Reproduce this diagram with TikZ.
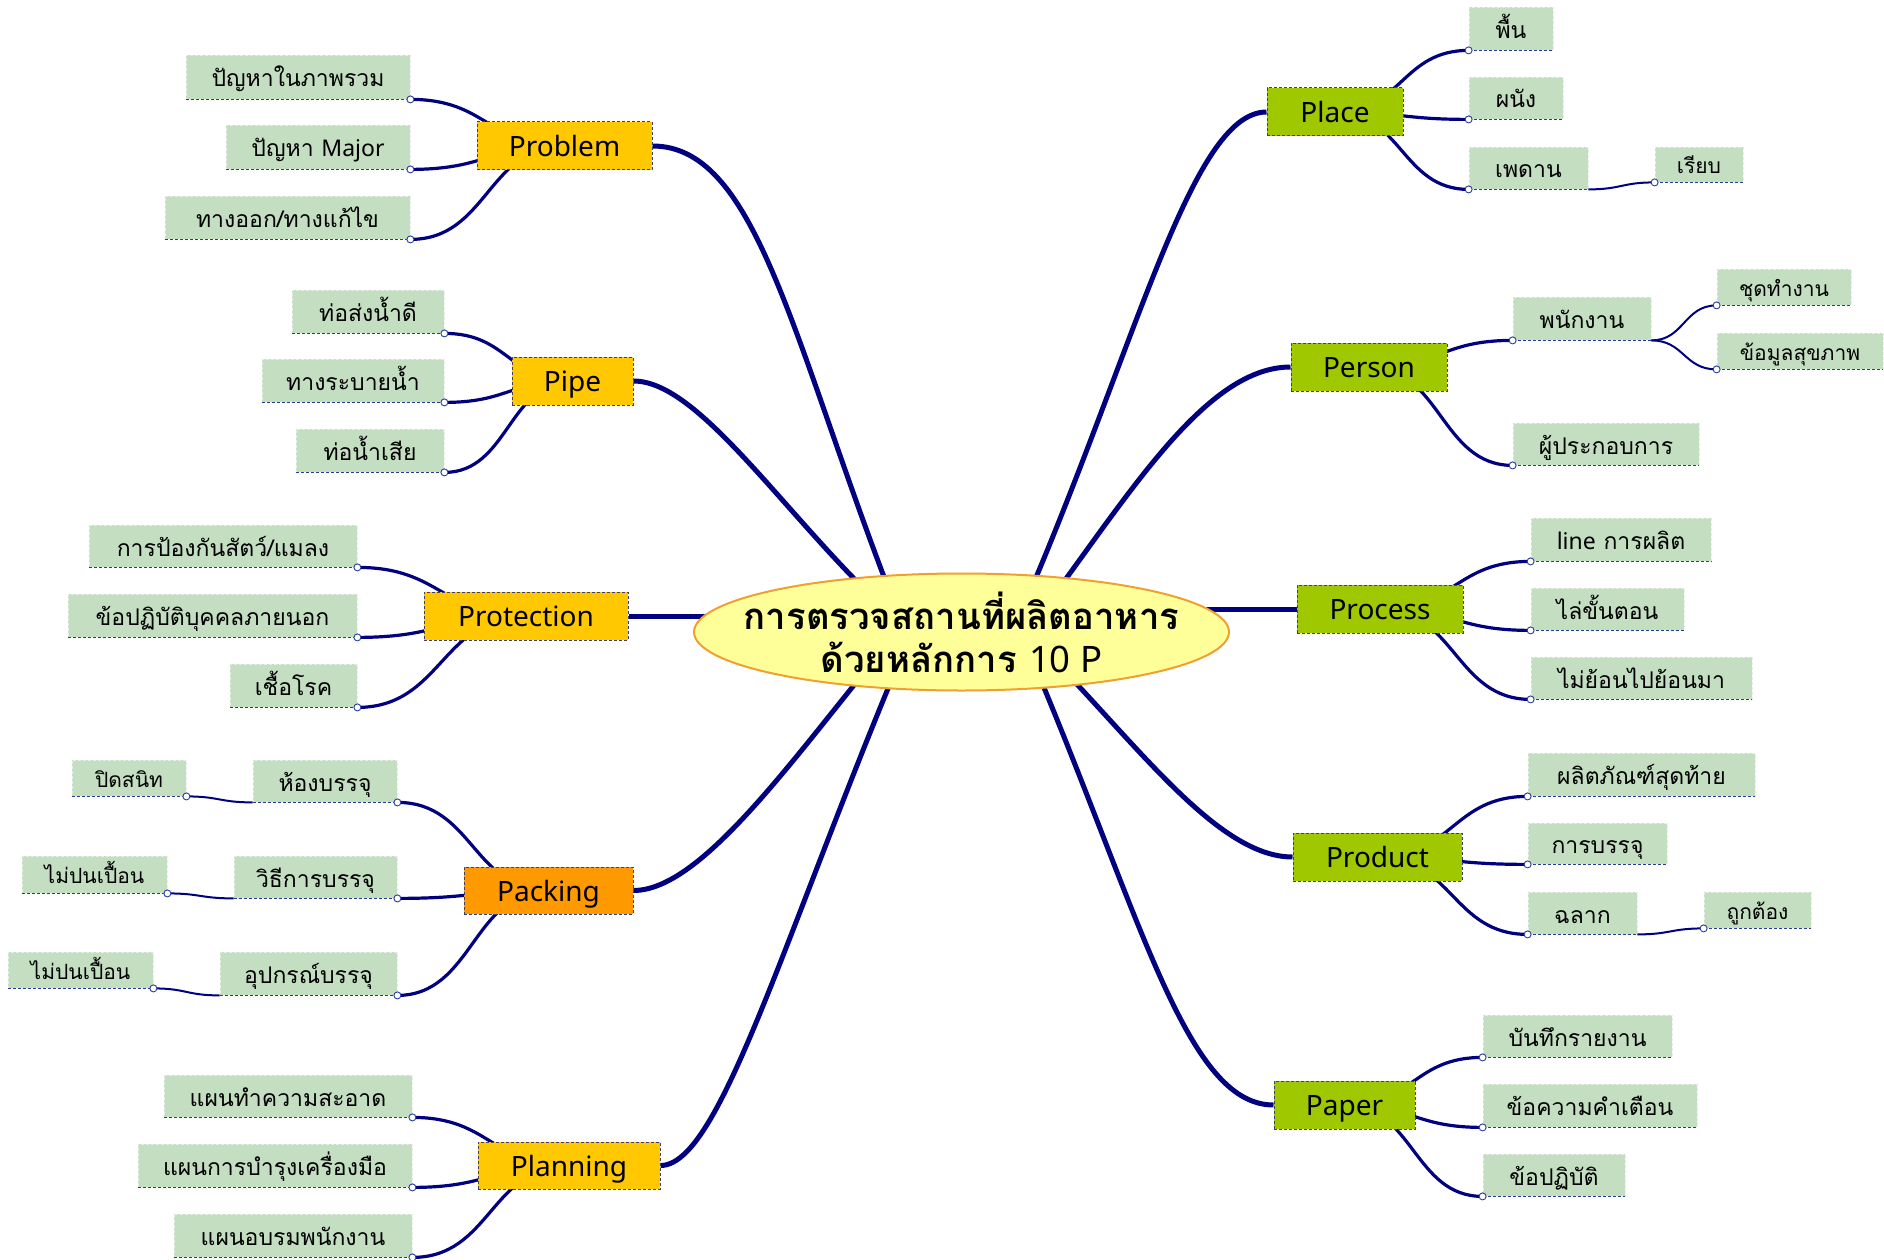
\documentclass[tikz,border=0pt]{standalone}
\usepackage{fontspec}
\setmainfont[Script=Thai]{Loma}
\newfontfamily\latin{Noto Sans}
\usetikzlibrary{calc,shapes.geometric}
\pgfdeclarelayer{background}
\pgfsetlayers{background,main}

\definecolor{branchblue}{HTML}{000080}
\definecolor{goldbox}{HTML}{FFC800}
\definecolor{orangebox}{HTML}{FF9900}
\definecolor{limebox}{HTML}{A0C800}
\definecolor{leaf}{HTML}{C4DEC2}
\definecolor{leafedge}{HTML}{E6EEE5}
\definecolor{underl}{HTML}{2A3A9A}
\definecolor{boxedge}{HTML}{404070}
\definecolor{centrefill}{HTML}{FFFF99}
\definecolor{centreedge}{HTML}{F0A030}

\tikzset{
  topic/.style={draw=boxedge, dash pattern=on 3pt off 2pt, line width=1pt,
    inner sep=0pt, text=black, text height=21pt, text depth=0pt,
    font=\latin\fontsize{28}{32}\selectfont},
  goldtopic/.style={topic, fill=goldbox},
  orangetopic/.style={topic, fill=orangebox},
  greentopic/.style={topic, fill=limebox},
  leafbox/.style={fill=leaf, draw=leafedge, dash pattern=on 3pt off 2pt,
    line width=0.8pt, inner sep=0pt, text=black, text height=20pt, text depth=0pt,
    font=\fontsize{23}{27}\selectfont},
  subleaf/.style={leafbox, text height=18.5pt, font=\fontsize{21}{25}\selectfont},
  underline/.style={draw=underl, line width=1pt, dash pattern=on 3pt off 2pt},
  trunk/.style={draw=branchblue, line width=5pt},
  twig/.style={draw=branchblue, line width=3.2pt},
  sprig/.style={draw=branchblue, line width=2pt},
  knob/.style={draw=underl, fill=white, line width=0.9pt},
  sc/.style={to path={let \p1=(\tikztostart), \p2=(\tikztotarget),
    \n1={(\x1+\x2)/2} in .. controls (\n1,\y1) and (\n1,\y2) .. (\tikztotarget)}}
}

% box given by its left, right, top and bottom edges (y grows downwards)
\newcommand\tbox[7]{\node[#1, minimum width={(#4)-(#3)}, minimum height={(#6)-(#5)}]
  (#2) at ({((#3)+(#4))/2},{((#5)+(#6))/2}) {#7};}
\newcommand\leafnode[7]{\tbox{#1}{#2}{#3}{#4}{#5}{#6}{#7}%
  \draw[underline] (#2.south west) -- (#2.south east);}

\begin{document}
\begin{tikzpicture}[x=1pt, y=-1pt]
\useasboundingbox (0,0) rectangle (1884,1260);
\begin{pgfonlayer}{background}
  \fill[white] (0,0) rectangle (1884,1260);
\end{pgfonlayer}

% central topic
\coordinate (hubc) at (961.5,632);
\filldraw[fill=centrefill, draw=centreedge, line width=2pt]
  (hubc) ellipse [x radius=267.5, y radius=58.5];
\node[align=center, inner sep=0pt, font=\fontsize{36.5}{43}\selectfont] (hub) at (hubc)
  {\textbf{การตรวจสถานที่ผลิตอาหาร}\\\textbf{ด้วยหลักการ} {\latin 10 P}};

% main topics
\tbox{goldtopic}{problem}{477}{652}{122}{170}{Problem}
\tbox{goldtopic}{pipe}{512}{633}{357}{405}{Pipe}
\tbox{goldtopic}{protection}{424}{628}{592}{640}{Protection}
\tbox{orangetopic}{packing}{464}{633}{867}{914}{Packing}
\tbox{goldtopic}{planning}{478}{660}{1142}{1189}{Planning}
\tbox{greentopic}{place}{1267}{1403}{88}{136}{Place}
\tbox{greentopic}{person}{1291}{1447}{343}{391}{Person}
\tbox{greentopic}{process}{1297}{1463}{585}{633}{Process}
\tbox{greentopic}{product}{1293}{1462}{833}{881}{Product}
\tbox{greentopic}{paper}{1274}{1415}{1081}{1129}{Paper}

% subtopics, left side
\leafnode{leafbox}{p1}{186}{410}{55}{99}{ปัญหาในภาพรวม}
\leafnode{leafbox}{p2}{226}{410}{125}{169}{ปัญหา {\latin Major}}
\leafnode{leafbox}{p3}{165}{410}{196}{239}{ทางออก/ทางแก้ไข}
\leafnode{leafbox}{q1}{292}{444}{290}{333}{ท่อส่งน้ำดี}
\leafnode{leafbox}{q2}{262}{444}{359}{402}{ทางระบายน้ำ}
\leafnode{leafbox}{q3}{296}{444}{429}{472}{ท่อน้ำเสีย}
\leafnode{leafbox}{r1}{89}{357}{525}{567}{การป้องกันสัตว์/แมลง}
\leafnode{leafbox}{r2}{68}{357}{594}{637}{ข้อปฏิบัติบุคคลภายนอก}
\leafnode{leafbox}{r3}{230}{357}{664}{707}{เชื้อโรค}
\leafnode{leafbox}{k1}{253}{397}{760}{802}{ห้องบรรจุ}
\leafnode{leafbox}{k2}{234}{397}{856}{898}{วิธีการบรรจุ}
\leafnode{leafbox}{k3}{220}{397}{952}{995}{อุปกรณ์บรรจุ}
\leafnode{subleaf}{k1a}{72}{186}{760}{796}{ปิดสนิท}
\leafnode{subleaf}{k2a}{22}{167}{856}{893}{ไม่ปนเปื้อน}
\leafnode{subleaf}{k3a}{8}{153}{952}{988}{ไม่ปนเปื้อน}
\leafnode{leafbox}{n1}{164}{412}{1075}{1117}{แผนทำความสะอาด}
\leafnode{leafbox}{n2}{138}{412}{1144}{1187}{แผนการบำรุงเครื่องมือ}
\leafnode{leafbox}{n3}{174}{412}{1214}{1257}{แผนอบรมพนักงาน}

% subtopics, right side
\leafnode{leafbox}{a1}{1469}{1553}{7}{50}{พื้น}
\leafnode{leafbox}{a2}{1469}{1563}{77}{119}{ผนัง}
\leafnode{leafbox}{a3}{1469}{1588}{147}{189}{เพดาน}
\leafnode{subleaf}{a3a}{1655}{1743}{147}{182}{เรียบ}
\leafnode{leafbox}{b1}{1513}{1651}{297}{340}{พนักงาน}
\leafnode{subleaf}{b1a}{1717}{1851}{269}{305}{ชุดทำงาน}
\leafnode{subleaf}{b1b}{1717}{1883}{333}{369}{ข้อมูลสุขภาพ}
\leafnode{leafbox}{b2}{1513}{1699}{423}{465}{ผู้ประกอบการ}
\leafnode{leafbox}{c1}{1531}{1711}{518}{561}{{\latin line} การผลิต}
\leafnode{leafbox}{c2}{1531}{1684}{588}{630}{ไล่ขั้นตอน}
\leafnode{leafbox}{c3}{1531}{1752}{657}{699}{ไม่ย้อนไปย้อนมา}
\leafnode{leafbox}{d1}{1528}{1755}{753}{796}{ผลิตภัณฑ์สุดท้าย}
\leafnode{leafbox}{d2}{1528}{1667}{823}{864}{การบรรจุ}
\leafnode{leafbox}{d3}{1528}{1637}{892}{934}{ฉลาก}
\leafnode{subleaf}{d3a}{1704}{1811}{892}{928}{ถูกต้อง}
\leafnode{leafbox}{e1}{1483}{1672}{1015}{1057}{บันทึกรายงาน}
\leafnode{leafbox}{e2}{1483}{1697}{1084}{1127}{ข้อความคำเตือน}
\leafnode{leafbox}{e3}{1483}{1625}{1154}{1196}{ข้อปฏิบัติ}

% roots of the main branches, hidden under the central ellipse
\coordinate (oProblem) at (905,631);
\coordinate (oPipe) at (909,631);
\coordinate (oProt) at (800,616);
\coordinate (oPack) at (898,631);
\coordinate (oPlan) at (912,631);
\coordinate (oPlace) at (1013,631);
\coordinate (oPerson) at (1027,631);
\coordinate (oProc) at (1120,609);
\coordinate (oProd) at (1025,631);
\coordinate (oPaper) at (1020,631);

\begin{pgfonlayer}{background}
  % main branches
  \draw[trunk] (problem.east) .. controls +(108,0) and +(-111,-278) .. (oProblem);
  \draw[trunk] (pipe.east) .. controls +(70,0) and +(-114,-98) .. (oPipe);
  \draw[trunk] (protection.east) -- (oProt);
  \draw[trunk] (packing.east) .. controls +(70,0) and +(-100,120) .. (oPack);
  \draw[trunk] (planning.east) .. controls +(60,0) and +(-129,304) .. (oPlan);
  \draw[trunk] (place.west) .. controls +(-77,0) and +(121,-274) .. (oPlace);
  \draw[trunk] (person.west) .. controls +(-90,0) and +(92,-119) .. (oPerson);
  \draw[trunk] (process.west) -- (oProc);
  \draw[trunk] (product.west) .. controls +(-80,0) and +(101,97) .. (oProd);
  \draw[trunk] (paper.west) .. controls +(-90,0) and +(119,275) .. (oPaper);

  % subtopic connectors
  \foreach \kid/\dad in {p1/problem,p2/problem,p3/problem,q1/pipe,q2/pipe,q3/pipe,
      r1/protection,r2/protection,r3/protection,k1/packing,k2/packing,k3/packing,
      n1/planning,n2/planning,n3/planning}
    \draw[twig] (\kid.south east) to[sc] (\dad.center);
  \foreach \kid/\dad in {a1/place,a2/place,a3/place,b1/person,b2/person,
      c1/process,c2/process,c3/process,d1/product,d2/product,d3/product,
      e1/paper,e2/paper,e3/paper}
    \draw[twig] (\kid.south west) to[sc] (\dad.center);

  % third-level connectors
  \draw[sprig] (k1.south west) to[sc] (k1a.south east);
  \draw[sprig] (k2.south west) to[sc] (k2a.south east);
  \draw[sprig] (k3.south west) to[sc] (k3a.south east);
  \draw[sprig] (a3.south east) to[sc] (a3a.south west);
  \draw[sprig] (b1.south east) to[sc] (b1a.south west);
  \draw[sprig] (b1.south east) to[sc] (b1b.south west);
  \draw[sprig] (d3.south east) to[sc] (d3a.south west);
\end{pgfonlayer}

% attachment knobs
\foreach \kid in {p1,p2,p3,q1,q2,q3,r1,r2,r3,k1,k2,k3,k1a,k2a,k3a,n1,n2,n3}
  \draw[knob] (\kid.south east) circle (3.5pt);
\foreach \kid in {a1,a2,a3,a3a,b1,b1a,b1b,b2,c1,c2,c3,d1,d2,d3,d3a,e1,e2,e3}
  \draw[knob] (\kid.south west) circle (3.5pt);
\end{tikzpicture}
\end{document}
